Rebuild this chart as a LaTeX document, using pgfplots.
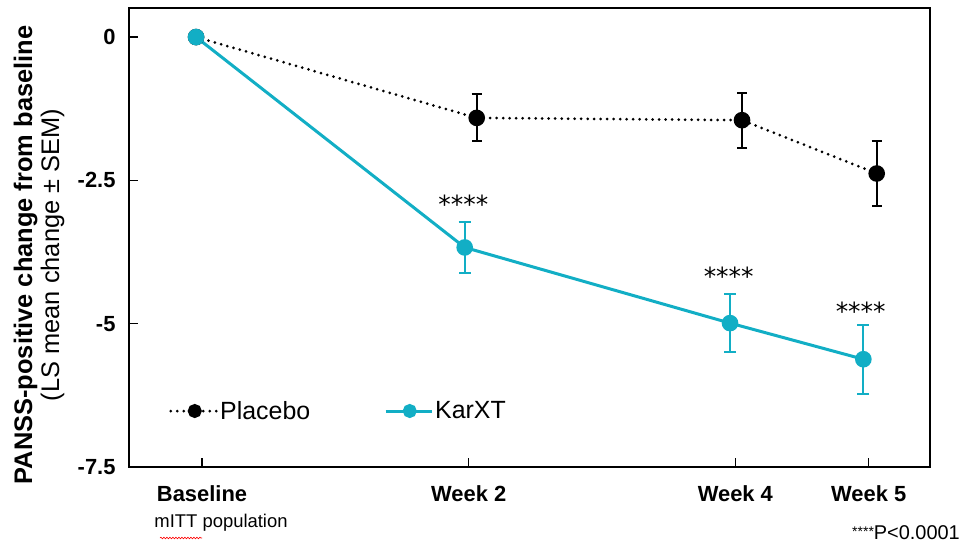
\documentclass[border=0pt]{standalone}
\usepackage{fontspec}
\setmainfont{Liberation Sans}
\newfontfamily\dejavu{DejaVu Sans}
\usepackage{pgfplots}
\pgfplotsset{compat=1.18}
\usetikzlibrary{decorations.pathmorphing}
\definecolor{karxt}{RGB}{18,174,197}

\begin{document}
\begin{tikzpicture}
\path[use as bounding box] (-129bp,-79bp) rectangle (832bp,467bp);
\begin{axis}[
  scale only axis, width=801bp, height=459bp,
  xmin=-0.548, xmax=5.46, ymin=-7.5, ymax=0.507,
  axis line style={line width=1.5bp},
  xtick={0,2,4,5}, xticklabels={Baseline,Week 2,Week 4,Week 5},
  ytick={0,-2.5,-5,-7.5}, yticklabels={0,-2.5,-5,-7.5},
  tick align=inside, major tick length=9bp,
  tick style={line width=1.5bp, black},
  xtick pos=bottom, ytick pos=left,
  xticklabel style={font=\fontsize{22}{24}\selectfont\bfseries, yshift=-15bp},
  yticklabel style={font=\fontsize{22}{24}\selectfont\bfseries, xshift=-10bp},
  clip=false,
  legend columns=2,
  legend style={at={(rel axis cs:0.05,0.122)}, anchor=west, draw=none, fill=none,
    inner sep=0pt, font=\fontsize{25}{27}\selectfont,
    /tikz/every even column/.append style={column sep=72bp}},
  legend image code/.code={\draw[mark repeat=2,mark phase=2,#1, mark size=5.5bp] plot coordinates {(0bp,0bp) (24bp,0bp) (46bp,0bp)};},
]
% placebo error bars
\addplot[forget plot, only marks, mark=none,
  error bars/.cd, y dir=both, y explicit,
  error bar style={draw=black, solid, line width=2.2bp},
  error mark options={rotate=90, mark size=5bp, line width=2.2bp, draw=black}]
  coordinates {(2.06,-1.41) +- (0,0.41) (4.05,-1.45) +- (0,0.48) (5.06,-2.38) +- (0,0.57)};
% karxt error bars
\addplot[forget plot, only marks, mark=none,
  error bars/.cd, y dir=both, y explicit,
  error bar style={draw=karxt, solid, line width=2bp},
  error mark options={rotate=90, mark size=6bp, line width=2bp, draw=karxt}]
  coordinates {(1.97,-3.67) +- (0,0.45) (3.96,-4.99) +- (0,0.51) (4.96,-5.62) +- (0,0.60)};
\addplot[black, line width=3bp, dash pattern=on 0bp off 6.5bp, line cap=round,
  mark=*, mark size=6.8bp, mark options={solid, fill=black, draw=black}]
  coordinates {(-0.045,0) (2.06,-1.41) (4.05,-1.45) (5.06,-2.38)};
\addlegendentry{Placebo}
\addplot[karxt, line width=3bp, mark=*, mark size=6.8bp, mark options={solid, fill=karxt, draw=karxt}]
  coordinates {(-0.045,0) (1.97,-3.67) (3.96,-4.99) (4.96,-5.62)};
\addlegendentry{KarXT}
\node[font=\dejavu\fontsize{25}{26}\selectfont] at (axis cs:1.96,-2.92) {****};
\node[font=\dejavu\fontsize{25}{26}\selectfont] at (axis cs:3.95,-4.18) {****};
\node[font=\dejavu\fontsize{25}{26}\selectfont] at (axis cs:4.94,-4.79) {****};
\end{axis}
\node[rotate=90, align=center, font=\fontsize{25.5}{27}\selectfont] at (-90bp,212bp)
  {\bfseries PANSS-positive change from baseline\\(LS mean change ± SEM)};
\node[font=\fontsize{18.5}{20}\selectfont] at (92bp,-56bp) {mITT population};
\draw[red, line width=0.6bp, decorate, decoration={snake, amplitude=0.8bp, segment length=3bp}]
  (31bp,-71bp) -- (73bp,-71bp);
\node[anchor=east, font=\fontsize{20}{22}\selectfont, inner sep=0pt] at (831bp,-66bp)
  {\raisebox{0.35ex}{\fontsize{14}{15}\selectfont****}P<0.0001};
\end{tikzpicture}
\end{document}
